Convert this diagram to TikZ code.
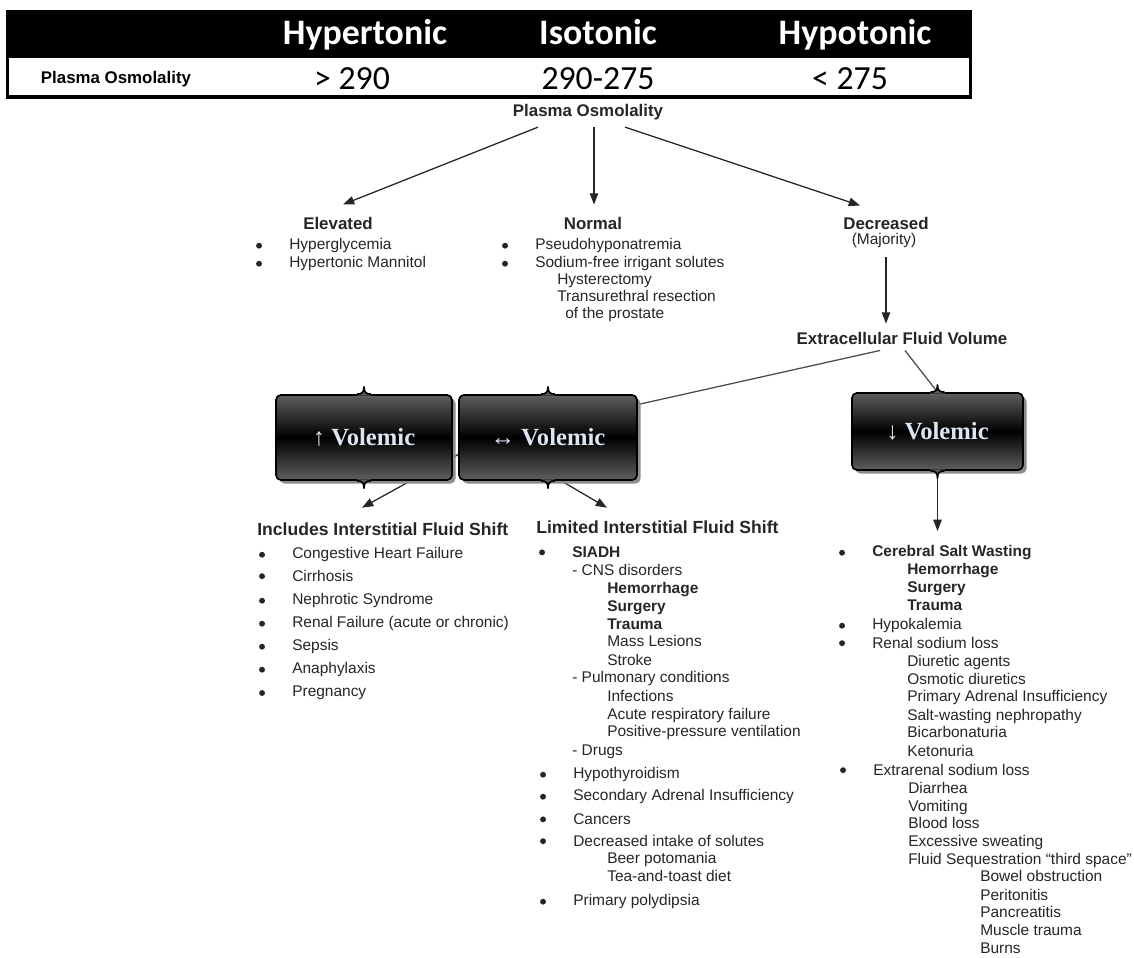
\documentclass[tikz,border=0pt]{standalone}
\usepackage{fontspec}
\setmainfont{Liberation Sans}
\newfontfamily\calfont{Carlito}
\newfontfamily\volfont{Liberation Serif}
\usetikzlibrary{arrows.meta,calc,shadows,backgrounds}

\definecolor{inkgrey}{HTML}{262626}
\definecolor{boxtop}{HTML}{5E5E5E}
\definecolor{volblue}{HTML}{DCE6F2}

\tikzset{
  thead/.style={anchor=base, font=\calfont\bfseries\fontsize{25.5}{28}\selectfont, text=white, inner sep=0pt},
  tval/.style={anchor=base, font=\calfont\fontsize{24}{28}\selectfont, inner sep=0pt},
  tlabel/.style={font=\bfseries\fontsize{12}{14}\selectfont, text=inkgrey, inner sep=0pt},
  head/.style={anchor=mid west, font=\bfseries\fontsize{12.5}{15}\selectfont, text=inkgrey, inner sep=0pt},
  item/.style={anchor=mid west, inner sep=0pt, text=inkgrey, font=\fontsize{11}{13}\selectfont},
  ibold/.style={item, font=\bfseries\fontsize{11}{13}\selectfont},
  bullet/.style={circle, fill=inkgrey, inner sep=0pt, minimum size=4.2pt, label distance=19pt},
  bitem/.style={item, label={[bullet]left:{}}},
  bbold/.style={ibold, label={[bullet]left:{}}},
  tarrow/.style={-{Triangle[length=8pt,width=6pt]}, line width=0.9pt, draw=inkgrey},
  tline/.style={line width=0.9pt, draw=black!70},
  volemic/.style={rounded corners=3.5pt, draw=black, line width=1.2pt,
    top color=boxtop, bottom color=boxtop, middle color=black,
    drop shadow={shadow xshift=2.5pt, shadow yshift=-2.5pt, fill=black!45, opacity=1},
    text=volblue, font=\volfont\bfseries\fontsize{17.5}{19}\selectfont},
}

% brace notch on top and bottom of a volemic box
\newcommand\volnotch[1]{%
  \fill[boxtop] ([xshift=-5pt,yshift=-1pt]#1.north) -- ([xshift=-5pt]#1.north)
    .. controls ([xshift=-1pt]#1.north) and ([yshift=1.5pt]#1.north) .. ([yshift=5.5pt]#1.north)
    .. controls ([yshift=1.5pt]#1.north) and ([xshift=1pt]#1.north) .. ([xshift=5pt]#1.north)
    -- ([xshift=5pt,yshift=-1pt]#1.north) -- cycle;
  \draw[line width=1.2pt] ([xshift=-5pt]#1.north)
    .. controls ([xshift=-1pt]#1.north) and ([yshift=1.5pt]#1.north) .. ([yshift=5.5pt]#1.north)
    .. controls ([yshift=1.5pt]#1.north) and ([xshift=1pt]#1.north) .. ([xshift=5pt]#1.north);
  \fill[boxtop] ([xshift=-5pt,yshift=1pt]#1.south) -- ([xshift=-5pt]#1.south)
    .. controls ([xshift=-1pt]#1.south) and ([yshift=-1.5pt]#1.south) .. ([yshift=-5.5pt]#1.south)
    .. controls ([yshift=-1.5pt]#1.south) and ([xshift=1pt]#1.south) .. ([xshift=5pt]#1.south)
    -- ([xshift=5pt,yshift=1pt]#1.south) -- cycle;
  \draw[line width=1.2pt] ([xshift=-5pt]#1.south)
    .. controls ([xshift=-1pt]#1.south) and ([yshift=-1.5pt]#1.south) .. ([yshift=-5.5pt]#1.south)
    .. controls ([yshift=-1.5pt]#1.south) and ([xshift=1pt]#1.south) .. ([xshift=5pt]#1.south);
}

\begin{document}
\begin{tikzpicture}[x=0.025cm, y=-0.025cm]
  \path[use as bounding box] (0,0) rectangle (1134,958);

  % table
  \fill[black] (6,10) rectangle (972,58);
  \draw[line width=2.2pt] (7.5,58) |- (970.5,97) -- (970.5,58);
  \node[thead] (hyper) at (365,45) {Hypertonic};
  \node[thead] (iso) at (598,45) {Isotonic};
  \node[thead] (hypo) at (855,45) {Hypotonic};
  \node[font=\bfseries\fontsize{12}{14}\selectfont, inner sep=0pt] (prow) at (116,79) {Plasma Osmolality};
  \node[tval] (vhyper) at (352,90) {> 290};
  \node[tval] (viso) at (598,90) {290-275};
  \node[tval] (vhypo) at (850,90) {< 275};

  % osmolality tree
  \node[tlabel] (pot) at (588,112) {Plasma Osmolality};
  \node[tlabel] (elev) at (338,223) {Elevated};
  \node[bitem] (elev1) at (289,246) {Hyperglycemia};
  \node[bitem] (elev2) at (289,264) {Hypertonic Mannitol};
  \node[tlabel] (normal) at (593,223) {Normal};
  \node[bitem] (norm1) at (535,246) {Pseudohyponatremia};
  \node[bitem] (norm2) at (535,264) {Sodium-free irrigant solutes};
  \node[item] (norm3) at (557,281) {Hysterectomy};
  \node[item] (norm4) at (557,298) {Transurethral resection};
  \node[item] (norm5) at (565,315) {of the prostate};
  \node[tlabel] (dec) at (886,223) {Decreased};
  \node[item, anchor=center] (maj) at (884,241) {(Majority)};
  \node[tlabel] (ecf) at (902,338) {Extracellular Fluid Volume};

  \draw[tarrow] ($(pot.south)+(-50,7)$) -- ($(elev.north)+(5,-12)$);
  \draw[tarrow] ($(pot.south)+(6,7)$) -- ($(normal.north)+(1,-12)$);
  \draw[tarrow] ($(pot.south)+(37,7)$) -- ($(dec.north)+(-26,-11)$);
  \draw[tarrow] ($(maj.south)+(2,9)$) -- ($(ecf.north)+(-16,-8)$);

  % volemic boxes
  \node[volemic, minimum width=4.4cm, minimum height=2.125cm] (up) at (364,437.5) {↑ Volemic};
  \node[volemic, minimum width=4.45cm, minimum height=2.125cm] (eq) at (548,437.5) {↔ Volemic};
  \node[volemic, minimum width=4.275cm, minimum height=1.925cm] (down) at (937.5,431.5) {↓ Volemic};
  \volnotch{up}
  \volnotch{eq}
  \volnotch{down}

  % lists
  \node[head] (inclh) at (257,532) {Includes Interstitial Fluid Shift};
  \foreach \t [count=\i] in {Congestive Heart Failure, Cirrhosis, Nephrotic Syndrome,
      Renal Failure (acute or chronic), Sepsis, Anaphylaxis, Pregnancy}
    \node[bitem] (incl\i) at (292,532+23*\i) {\t};

  \node[head] (limh) at (536,530) {Limited Interstitial Fluid Shift};
  \foreach \x/\y/\s/\t [count=\i] in {572/554/bbold/SIADH, 572/572/item/- CNS disorders,
      607/590/ibold/Hemorrhage, 607/608/ibold/Surgery, 607/626/ibold/Trauma,
      607/643/item/Mass Lesions, 607/662/item/Stroke, 572/679/item/- Pulmonary conditions,
      607/698/item/Infections, 607/716/item/Acute respiratory failure,
      607/733/item/Positive-pressure ventilation, 572/752/item/- Drugs,
      573/775/bitem/Hypothyroidism, 573/797/bitem/Secondary Adrenal Insufficiency,
      573/821/bitem/Cancers, 573/843/bitem/Decreased intake of solutes,
      607/860/item/Beer potomania, 607/878/item/Tea-and-toast diet,
      573/902/bitem/Primary polydipsia}
    \node[\s] (lim\i) at (\x,\y) {\t};

  \foreach \x/\y/\s/\t [count=\i] in {872/553/bbold/Cerebral Salt Wasting,
      907/571/ibold/Hemorrhage, 907/589/ibold/Surgery, 907/607/ibold/Trauma,
      872/626/bitem/Hypokalemia, 872/645/bitem/Renal sodium loss,
      907/663/item/Diuretic agents, 907/681/item/Osmotic diuretics,
      907/698/item/Primary Adrenal Insufficiency, 907/717/item/Salt-wasting nephropathy,
      907/734/item/Bicarbonaturia, 907/753/item/Ketonuria,
      873/772/bitem/Extrarenal sodium loss, 908/790/item/Diarrhea,
      908/808/item/Vomiting, 908/825/item/Blood loss, 908/843/item/Excessive sweating,
      908/861/item/Fluid Sequestration ``third space'',
      980/878/item/Bowel obstruction, 980/897/item/Peritonitis,
      980/914/item/Pancreatitis, 980/932/item/Muscle trauma, 980/950/item/Burns}
    \node[\s] (hypov\i) at (\x,\y) {\t};

  % volume connectors, under the boxes
  \coordinate (fork) at (488,438);
  \coordinate (dtip) at (937.5,531);
  \begin{scope}[on background layer]
    \fill[white] (0,0) rectangle (1134,958);
    \draw[tline] ($(ecf.south)+(-22,6)$) -- (fork);
    \draw[tarrow] (fork) -- ($(inclh.north west)+(105,-15)$);
    \draw[tarrow] (fork) -- ($(limh.north west)+(71,-13)$);
    \draw[tline] ($(ecf.south)+(3,6)$) -- (down.north);
    \draw[tarrow] (down.center) -- (dtip);
  \end{scope}
\end{tikzpicture}
\end{document}
